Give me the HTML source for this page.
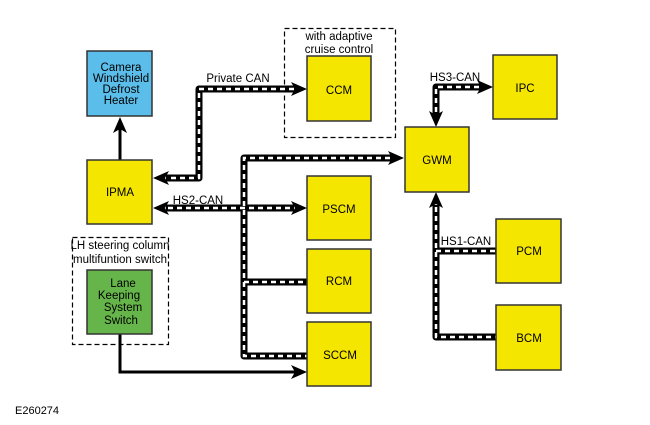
<!DOCTYPE html>
<html><head><meta charset="utf-8"><style>
html,body{margin:0;padding:0;background:#fff;}
svg{display:block;font-family:"Liberation Sans",Arial,sans-serif;}
</style></head><body>
<svg width="650" height="425" viewBox="0 0 650 425" xmlns="http://www.w3.org/2000/svg">
<!-- dashed boxes -->
<rect x="284.5" y="28.5" width="111" height="109" fill="none" stroke="#000" stroke-width="1.2" stroke-dasharray="5,3"/>
<rect x="72.5" y="237.5" width="96" height="107" fill="none" stroke="#000" stroke-width="1.2" stroke-dasharray="5,3"/>
<text x="339" y="40" font-size="11.5" text-anchor="middle">with adaptive</text>
<text x="339" y="53" font-size="11.5" text-anchor="middle">cruise control</text>
<text x="120" y="249" font-size="11.5" text-anchor="middle">LH steering column</text>
<text x="120" y="263" font-size="11.5" text-anchor="middle">multifuntion switch</text>

<!-- plain arrows -->
<path d="M120,160 V128" stroke="#000" stroke-width="3" fill="none"/>
<path d="M120,117 L113,133 L120,129 L127,133 Z" fill="#000"/>
<path d="M120,334 V372 H296" stroke="#000" stroke-width="3" fill="none"/>
<path d="M307,372 L291,365 L295,372 L291,379 Z" fill="#000"/>

<!-- buses black -->
<g stroke="#000" stroke-width="7" fill="none" stroke-linejoin="round">
<path d="M296,89 H199 V178 H166"/>
<path d="M392,158 H244 V356 H307"/>
<path d="M166,208 H294"/>
<path d="M244,282 H307"/>
<path d="M481,87 H436 V115"/>
<path d="M436,205 V337 H496"/>
<path d="M436,251 H496"/>
</g>
<g stroke="#fff" stroke-width="2.5" fill="none" stroke-dasharray="5,4">
<path d="M294,89 H199 V178 H168"/>
<path d="M390,158 H244 V356 H307"/>
<path d="M168,208 H292"/>
<path d="M244,282 H307"/>
<path d="M479,87 H436 V113"/>
<path d="M436,207 V337 H496"/>
<path d="M436,251 H496"/>
</g>
<!-- arrowheads for buses -->
<g fill="#000">
<path d="M307,89 L291,82 L295,89 L291,96 Z"/>
<path d="M153,178 L169,171 L165,178 L169,185 Z"/>
<path d="M404,158 L388,151 L392,158 L388,165 Z"/>
<path d="M153,208 L169,201 L165,208 L169,215 Z"/>
<path d="M307,208 L291,201 L295,208 L291,215 Z"/>
<path d="M493,87 L477,80 L481,87 L477,94 Z"/>
<path d="M436,127 L429,111 L436,115 L443,111 Z"/>
<path d="M436,192 L429,208 L436,204 L443,208 Z"/>
</g>

<!-- boxes -->
<g stroke="#333" stroke-width="1.5">
<rect x="87" y="51" width="65" height="65" fill="#5bbde9"/>
<rect x="87" y="160" width="65" height="64" fill="#f5e600"/>
<rect x="87" y="270" width="65" height="64" fill="#66b54a"/>
<rect x="307" y="56" width="64" height="65" fill="#f5e600"/>
<rect x="307" y="176" width="64" height="64" fill="#f5e600"/>
<rect x="307" y="249" width="64" height="64" fill="#f5e600"/>
<rect x="307" y="322" width="64" height="64" fill="#f5e600"/>
<rect x="405" y="127" width="64" height="65" fill="#f5e600"/>
<rect x="493" y="55" width="64" height="64" fill="#f5e600"/>
<rect x="496" y="219" width="65" height="64" fill="#f5e600"/>
<rect x="496" y="305" width="65" height="65" fill="#f5e600"/>
</g>
<g font-size="11.5" text-anchor="middle" fill="#000">
<text x="121" y="71">Camera</text>
<text x="121" y="82">Windshield</text>
<text x="121" y="93">Defrost</text>
<text x="121" y="104">Heater</text>
<text x="120" y="196">IPMA</text>
<text x="123" y="287">Lane</text>
<text x="119" y="299">Keeping</text>
<text x="123" y="311">System</text>
<text x="121" y="324">Switch</text>
<text x="339" y="94">CCM</text>
<text x="339" y="213">PSCM</text>
<text x="339" y="285">RCM</text>
<text x="340" y="359">SCCM</text>
<text x="437" y="164">GWM</text>
<text x="525" y="92">IPC</text>
<text x="529" y="255">PCM</text>
<text x="529" y="342">BCM</text>
<text x="238" y="82">Private CAN</text>
<text x="198" y="204">HS2-CAN</text>
<text x="455" y="81">HS3-CAN</text>
<text x="466" y="245">HS1-CAN</text>
</g>
<text x="15" y="414" font-size="11">E260274</text>
</svg>
</body></html>
